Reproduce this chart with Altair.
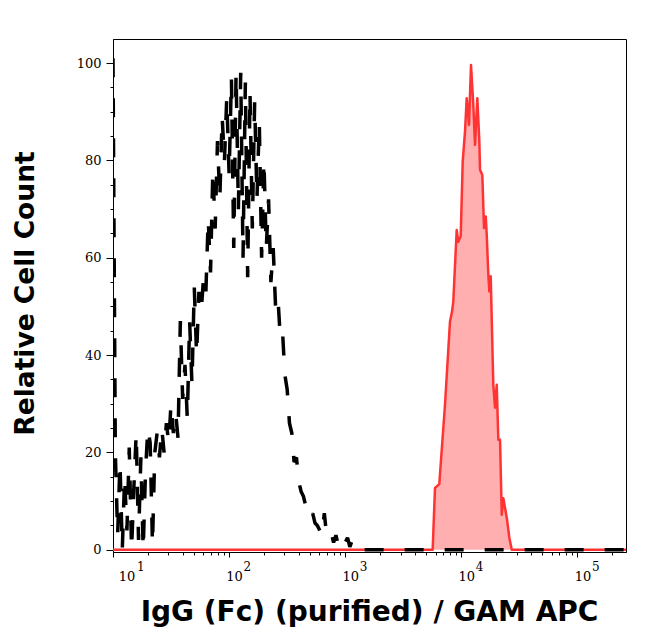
import altair as alt
import pandas as pd

# ---------------- data ----------------
# isotype control (black dashed) : channel counts on a log grid starting at 10, 0.02 decade per channel
black_start_log = 1.0
black_step_log = 0.02
black_counts = [101, 20, 3, 18, 0, 15, 4, 21, 0, 13, 24, 2, 19, 0, 16, 25, 22, 1, 20, 24,
                19, 25, 20, 26, 22, 30, 24, 28, 23, 47, 31, 38, 27, 47, 34, 54, 40, 53, 49, 56,
                53, 68, 57, 78, 66, 84, 72, 89, 80, 93, 77, 97, 62, 98, 70, 98, 60, 96, 56, 94,
                66, 92, 72, 88, 60, 80, 62, 72, 55, 62, 50, 52, 44, 45, 36, 33, 26, 24, 18, 19,
                14, 12, 11, 9, 8, 6.5, 7.5, 5.5, 5, 4, 3, 7.5, 3, 2.7, 3.5, 1.5, 3, 1, 2, 0.8,
                1.5, 2.5, 0.6, 2, 0.5, 0, 0]
black_tail_x = [262144]
black_tail_y = [0]

# stained sample (red filled)
red_x = [10, 5667, 5934, 6461, 7236, 7991, 8314, 8531, 9127, 9422, 9881, 10283, 10762,
         11131, 11651, 12120, 12689, 13126, 13739, 14300, 14500, 15170, 15692, 16233,
         16560, 17096, 17440, 17920, 18870, 19520, 20190, 20840, 21560, 22300, 23020,
         24630, 25930, 27200, 262144]
red_y = [0, 0, 12.7, 13.5, 29.8, 46.9, 48.9, 51, 65.7, 63.3, 64.4, 79.8, 85.9,
         92.8, 87.3, 99.6, 91.4, 83.2, 92.8, 83.9, 78.1, 77.0, 66.1, 68.5,
         64.7, 56.5, 53.1, 56.2, 33.9, 29.2, 33.9, 22.6, 22.6, 7.2, 10.6,
         6.6, 2.5, 0, 0]

x_major_ticks = [10, 100, 1000, 10000, 100000]
x_minor_ticks = [d * k for d in [10, 100, 1000, 10000, 100000] for k in range(2, 10) if d * k <= 262144]
y_major_ticks = [0, 20, 40, 60, 80, 100]
y_minor_ticks = [v for v in range(5, 101, 5) if v % 20 != 0]

x_title = "IgG (Fc) (purified) / GAM APC"
y_title = "Relative Cell Count"

black_x = [10 ** (black_start_log + black_step_log * i) for i in range(len(black_counts))] + black_tail_x
black_y = black_counts + black_tail_y
black_df = pd.DataFrame({"x": black_x, "y": black_y})
red_df = pd.DataFrame({"x": red_x, "y": red_y})

# ---------------- scales / axes ----------------
xscale = alt.Scale(type="log", domain=[10, 262144], nice=False)
yscale = alt.Scale(domain=[-0.45, 104.95], nice=False, zero=False)

axis_x_major = alt.Axis(
    values=x_major_ticks, labelExpr="'10'", tickSize=5, labelFlush=False,
    labelAlign="center", labelBaseline="alphabetic", labelPadding=23.5,
    labelOffset={"condition": {"test": "datum.value <= 10", "value": 13.4}, "value": 5},
    labelFont="DejaVu Serif", labelFontSize=13, labelOverlap=False,
    title=x_title, titleFont="DejaVu Sans", titleFontSize=28, titleFontWeight="bold",
    titleX=256, titleY=68, titleAlign="center", titleBaseline="alphabetic",
    orient="bottom", grid=False)

axis_x_exp = alt.Axis(
    values=x_major_ticks, labelExpr="'' + round(log(datum.value) / LN10)",
    ticks=False, tickSize=0, domain=False, labelFlush=False,
    labelAlign="left", labelBaseline="alphabetic", labelPadding=18,
    labelOffset={"condition": {"test": "datum.value <= 10", "value": 23.4}, "value": 14},
    labelFont="DejaVu Serif", labelFontSize=12, labelOverlap=False,
    title=None, orient="bottom", grid=False)

axis_x_minor = alt.Axis(values=x_minor_ticks, labels=False, tickSize=3, domain=False,
                        title=None, orient="bottom", grid=False)

axis_y_major = alt.Axis(
    values=y_major_ticks, tickSize=7, labelPadding=5, labelFont="DejaVu Serif",
    labelFontSize=13, labelAlign="right", labelBaseline="middle", labelFlush=False,
    title=y_title, titleFont="DejaVu Sans", titleFontSize=26.5, titleFontWeight="bold",
    titleAngle=270, titleX=-80, titleY=254, titleAlign="center", titleBaseline="alphabetic",
    orient="left", grid=False)

axis_y_minor = alt.Axis(values=y_minor_ticks, labels=False, tickSize=3, domain=False,
                        title=None, orient="left", grid=False)

# ---------------- marks ----------------
area = alt.Chart(red_df).mark_area(color="#ffafaf", clip=True).encode(
    x=alt.X("x:Q", scale=xscale, axis=axis_x_major),
    y=alt.Y("y:Q", scale=yscale, axis=axis_y_major),
)
red_line = alt.Chart(red_df).mark_line(color="#ff3333", strokeWidth=2.5, clip=True,
                                       strokeJoin="round").encode(
    x=alt.X("x:Q", scale=xscale, axis=axis_x_exp),
    y=alt.Y("y:Q", scale=yscale, axis=axis_y_minor),
)
black_line = alt.Chart(black_df).mark_line(color="black", strokeWidth=3.5, strokeDash=[19, 21],
                                           clip=True, strokeJoin="bevel").encode(
    x=alt.X("x:Q", scale=xscale, axis=axis_x_minor),
    y=alt.Y("y:Q", scale=yscale, axis=None),
)

chart = alt.layer(area, red_line, black_line).resolve_axis(
    x="independent", y="independent"
).properties(
    width=513, height=513,
    autosize=alt.AutoSizeParams(type="none"),
    padding={"left": 105, "top": 31, "right": 12, "bottom": 81},
).configure_view(
    stroke="black", strokeWidth=1
).configure_axis(
    domainColor="black", tickColor="black", labelColor="black", titleColor="black",
    domainWidth=1, tickWidth=1
)

chart.save("out.html", embed_options={"renderer": "svg", "actions": False})
